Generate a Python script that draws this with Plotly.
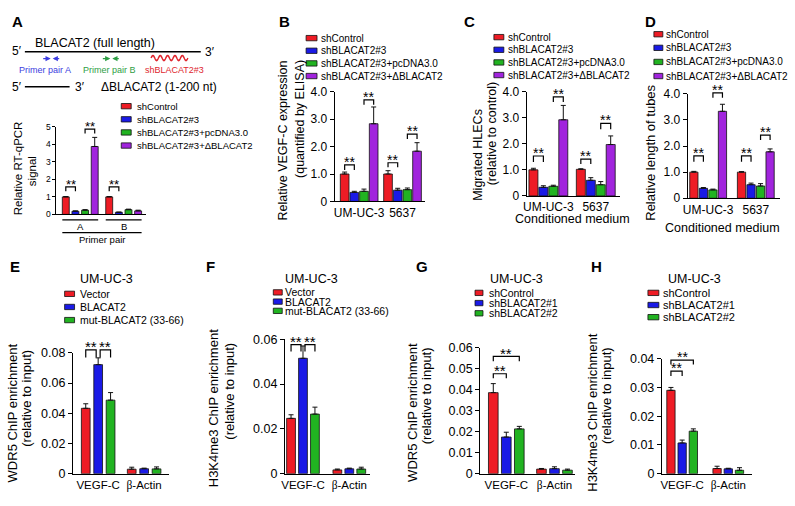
import math
import plotly.graph_objects as go

W, H = 795, 506
SANS = "Liberation Sans, Arial, Helvetica, sans-serif"
SERIF = "Liberation Serif, Times New Roman, serif"
RED, BLUE, GREEN, PURPLE = "#ee1c25", "#1a1ae6", "#21b321", "#a124dd"

# ---------------- data ----------------
top_names = ["shControl", "shBLACAT2#3", "shBLACAT2#3+pcDNA3.0", "shBLACAT2#3+ΔBLACAT2"]
top_colors = [RED, BLUE, GREEN, PURPLE]
e_names = ["Vector", "BLACAT2", "mut-BLACAT2 (33-66)"]
g_names = ["shControl", "shBLACAT2#1", "shBLACAT2#2"]
bot_colors = [RED, BLUE, GREEN]

a_groups = ["A", "B"]
a_values = [[1.00, 1.00], [0.18, 0.12], [0.24, 0.27], [3.88, 0.20]]
a_errors = [[0.02, 0.02], [0.02, 0.01], [0.03, 0.03], [0.52, 0.04]]

cell_groups = ["UM-UC-3", "5637"]
b_values = [[1.00, 1.00], [0.33, 0.41], [0.37, 0.43], [2.83, 1.83]]
b_errors = [[0.07, 0.12], [0.04, 0.07], [0.08, 0.06], [0.61, 0.31]]
c_values = [[1.00, 1.02], [0.33, 0.60], [0.37, 0.43], [2.92, 1.97]]
c_errors = [[0.06, 0.02], [0.06, 0.10], [0.04, 0.12], [0.55, 0.33]]
d_values = [[1.00, 1.00], [0.38, 0.52], [0.32, 0.47], [3.33, 1.78]]
d_errors = [[0.03, 0.02], [0.03, 0.06], [0.03, 0.09], [0.27, 0.11]]

gene_groups = ["VEGF-C", "β-Actin"]
e_values = [[0.0433, 0.0030], [0.0722, 0.0033], [0.0487, 0.0032]]
e_errors = [[0.0030, 0.0013], [0.0045, 0.0004], [0.0050, 0.0013]]
f_values = [[0.0247, 0.0017], [0.0515, 0.0022], [0.0266, 0.0021]]
f_errors = [[0.0016, 0.0004], [0.0055, 0.0003], [0.0031, 0.0008]]
g_values = [[0.0387, 0.0022], [0.0175, 0.0024], [0.0214, 0.0017]]
g_errors = [[0.0043, 0.0003], [0.0023, 0.0009], [0.0012, 0.0005]]
h_values = [[0.0290, 0.0018], [0.0107, 0.0017], [0.0148, 0.0012]]
h_errors = [[0.0010, 0.0008], [0.0010, 0.0002], [0.0008, 0.0009]]

a_ticks = [0, 1, 2, 3, 4, 5]
a_ticktext = ["0", "1", "2", "3", "4", "5"]
top_ticks = [0, 1, 2, 3, 4]
top_ticktext = ["0", "1.0", "2.0", "3.0", "4.0"]
e_ticks = [0, 0.02, 0.04, 0.06, 0.08]
e_ticktext = ["0", "0.02", "0.04", "0.06", "0.08"]
f_ticks = [0, 0.02, 0.04, 0.06]
f_ticktext = ["0", "0.02", "0.04", "0.06"]
g_ticks = [0, 0.01, 0.02, 0.03, 0.04, 0.05, 0.06]
g_ticktext = ["0", "0.01", "0.02", "0.03", "0.04", "0.05", "0.06"]
h_ticks = [0, 0.01, 0.02, 0.03, 0.04]
h_ticktext = ["0", "0.01", "0.02", "0.03", "0.04"]

# significance: (group, bar_a, bar_b, bracket level, leg end, label)
a_sig = [(0, 0, 1, 1.57, 1.32, "**"), (0, 2, 3, 4.87, 4.62, "**"), (1, 0, 1, 1.57, 1.32, "**")]
b_sig = [(0, 0, 1, 1.33, 1.15, "**"), (0, 2, 3, 3.70, 3.52, "**"), (1, 0, 1, 1.41, 1.25, "**"), (1, 2, 3, 2.45, 2.27, "**")]
c_sig = [(0, 0, 1, 1.53, 1.30, "**"), (0, 2, 3, 3.80, 3.60, "**"), (1, 0, 1, 1.41, 1.22, "**"), (1, 2, 3, 2.78, 2.56, "**")]
d_sig = [(0, 0, 1, 1.62, 1.40, "**"), (0, 2, 3, 4.04, 3.85, "**"), (1, 0, 1, 1.62, 1.40, "**"), (1, 2, 3, 2.42, 2.23, "**")]
e_sig = [(0, 0, 1, 0.082, 0.077, "**"), (0, 1, 2, 0.082, 0.077, "**")]
f_sig = [(0, 0, 1, 0.0576, 0.0545, "**"), (0, 1, 2, 0.0576, 0.0545, "**")]
g_sig = [(0, 0, 1, 0.0477, 0.0456, "**"), (0, 0, 2, 0.0560, 0.0537, "**")]
h_sig = [(0, 0, 1, 0.0357, 0.0340, "**"), (0, 0, 2, 0.0395, 0.0380, "**")]

# ---------------- layout geometry (pixels) ----------------
panels = [
    dict(key="A", groups=a_groups, names=top_names, colors=top_colors, vals=a_values, errs=a_errors,
         ticks=a_ticks, ticktext=a_ticktext, ymax=5, sig=a_sig,
         x0=51.7, x1=141.7, yt=123.3, yb=213.3, xr=(-0.55, 1.51), step=0.222, bw=0.16,
         tfont=8.5, xfont=0, sigfont=13),
    dict(key="B", groups=cell_groups, names=top_names, colors=top_colors, vals=b_values, errs=b_errors,
         ticks=top_ticks, ticktext=top_ticktext, ymax=4, sig=b_sig,
         x0=331.7, x1=422.3, yt=87.0, yb=200.0, xr=(-0.566, 1.51), step=0.223, bw=0.20,
         tfont=12, xfont=12, sigfont=14),
    dict(key="C", groups=cell_groups, names=top_names, colors=top_colors, vals=c_values, errs=c_errors,
         ticks=top_ticks, ticktext=top_ticktext, ymax=4, sig=c_sig,
         x0=525.0, x1=619.3, yt=87.0, yb=194.3, xr=(-0.457, 1.52), step=0.21, bw=0.19,
         tfont=12, xfont=12, sigfont=14),
    dict(key="D", groups=cell_groups, names=top_names, colors=top_colors, vals=d_values, errs=d_errors,
         ticks=top_ticks, ticktext=top_ticktext, ymax=4, sig=d_sig,
         x0=687.0, x1=780.0, yt=89.3, yb=196.7, xr=(-0.43, 1.51), step=0.20, bw=0.173,
         tfont=12, xfont=12, sigfont=14),
    dict(key="E", groups=gene_groups, names=e_names, colors=bot_colors, vals=e_values, errs=e_errors,
         ticks=e_ticks, ticktext=e_ticktext, ymax=0.08, sig=e_sig,
         x0=68.3, x1=165.0, yt=355.7, yb=480.0, xr=(-0.55, 1.54), step=0.27, bw=0.19,
         tfont=12.5, xfont=11.5, sigfont=15),
    dict(key="F", groups=gene_groups, names=e_names, colors=bot_colors, vals=f_values, errs=f_errors,
         ticks=f_ticks, ticktext=f_ticktext, ymax=0.06, sig=f_sig,
         x0=281.7, x1=367.0, yt=341.7, yb=480.0, xr=(-0.39, 1.44), step=0.258, bw=0.19,
         tfont=12.5, xfont=11.5, sigfont=15),
    dict(key="G", groups=gene_groups, names=g_names, colors=bot_colors, vals=g_values, errs=g_errors,
         ticks=g_ticks, ticktext=g_ticktext, ymax=0.06, sig=g_sig,
         x0=478.3, x1=573.3, yt=350.7, yb=480.0, xr=(-0.54, 1.42), step=0.27, bw=0.20,
         tfont=12.5, xfont=11.5, sigfont=15),
    dict(key="H", groups=gene_groups, names=g_names, colors=bot_colors, vals=h_values, errs=h_errors,
         ticks=h_ticks, ticktext=h_ticktext, ymax=0.04, sig=h_sig,
         x0=661.0, x1=752.0, yt=361.7, yb=480.0, xr=(-0.44, 1.52), step=0.243, bw=0.18,
         tfont=12.5, xfont=11.5, sigfont=14),
]


def PX(x):
    return x / W


def PY(y):
    return 1 - y / H


annotations = []
shapes = []


def text(t, x, y, size, color="black", xanchor="center", yanchor="middle", angle=0, family=SANS):
    annotations.append(dict(text=t, x=PX(x), y=PY(y), xref="paper", yref="paper", showarrow=False,
                            font=dict(size=size, color=color, family=family),
                            xanchor=xanchor, yanchor=yanchor, textangle=angle))


def hline(x0, x1, y, width=1.0, color="black"):
    shapes.append(dict(type="line", xref="paper", yref="paper", x0=PX(x0), x1=PX(x1), y0=PY(y), y1=PY(y),
                       line=dict(color=color, width=width)))


def xmap(p, xv):
    r0, r1 = p["xr"]
    return p["x0"] + (xv - r0) / (r1 - r0) * (p["x1"] - p["x0"])


def ymap(p, yv):
    return p["yb"] - yv / p["ymax"] * (p["yb"] - p["yt"])


def bar_center(p, gi, k):
    K = len(p["names"])
    return gi + (k - (K - 1) / 2) * p["step"]


def fmt_label(s):
    if s.startswith("β"):
        return "<span style='font-family:%s'>β</span>%s" % ("Liberation Serif", s[1:])
    return s


fig = go.Figure()
layout = {}
for idx, p in enumerate(panels):
    n = idx + 1
    xs = "x" if n == 1 else "x%d" % n
    ys = "y" if n == 1 else "y%d" % n
    K = len(p["names"])
    for k in range(K):
        off = (k - (K - 1) / 2) * p["step"] - p["bw"] / 2
        fig.add_trace(go.Bar(
            x=p["groups"], y=p["vals"][k], name=p["names"][k],
            xaxis=xs, yaxis=ys, showlegend=False,
            offset=[off] * len(p["groups"]), width=[p["bw"]] * len(p["groups"]),
            marker=dict(color=p["colors"][k], line=dict(color="#111111", width=0.8)),
            error_y=dict(type="data", array=p["errs"][k], arrayminus=[0] * len(p["groups"]),
                         symmetric=False, color="#111111", thickness=1, width=2.5),
        ))
    xa = dict(domain=[PX(p["x0"]), PX(p["x1"])], anchor=ys, type="category",
              categoryorder="array", categoryarray=p["groups"], range=list(p["xr"]),
              showline=True, linecolor="black", linewidth=1, ticks="", showgrid=False,
              zeroline=False, fixedrange=True,
              showticklabels=p["xfont"] > 0,
              tickvals=p["groups"], ticktext=[fmt_label(g) for g in p["groups"]],
              tickfont=dict(family=SANS, size=p["xfont"] or 10, color="black"))
    ya = dict(domain=[PY(p["yb"]), PY(p["yt"])], anchor=xs, range=[0, p["ymax"]],
              showline=True, linecolor="black", linewidth=1, ticks="outside",
              ticklen=4 if p["key"] != "A" else 3, tickwidth=1, tickcolor="black",
              tickvals=p["ticks"], ticktext=p["ticktext"], showgrid=False, zeroline=False,
              fixedrange=True, tickfont=dict(family=SANS, size=p["tfont"], color="black"))
    layout["xaxis" if n == 1 else "xaxis%d" % n] = xa
    layout["yaxis" if n == 1 else "yaxis%d" % n] = ya

    # significance brackets
    for (gi, a, b, lvl, leg, lab) in p["sig"]:
        xa_px = xmap(p, bar_center(p, gi, a))
        xb_px = xmap(p, bar_center(p, gi, b))
        if p["key"] in ("E", "F"):
            if a == 1:
                xa_px += 2
            if b == 1:
                xb_px -= 2
        yl = ymap(p, lvl)
        yg = ymap(p, leg)
        path = "M %f,%f L %f,%f L %f,%f L %f,%f" % (PX(xa_px), PY(yg), PX(xa_px), PY(yl),
                                                   PX(xb_px), PY(yl), PX(xb_px), PY(yg))
        shapes.append(dict(type="path", xref="paper", yref="paper", path=path,
                           line=dict(color="black", width=1.2)))
        text(lab, (xa_px + xb_px) / 2, yl - 3, p["sigfont"])

# ---------------- panel letters ----------------
for lab, x, y in [("A", 13, 15), ("B", 281, 15), ("C", 467, 15), ("D", 650, 15),
                  ("E", 10, 267), ("F", 207, 267), ("G", 420, 267), ("H", 595, 267)]:
    text("<b>%s</b>" % lab, x, y, 15)


# ---------------- legends ----------------
def legend(names, colors, bx, ys, bwid, bh, tx, size):
    for nm, col, y in zip(names, colors, ys):
        shapes.append(dict(type="rect", xref="paper", yref="paper",
                           x0=PX(bx), x1=PX(bx + bwid), y0=PY(y + bh / 2), y1=PY(y - bh / 2),
                           fillcolor=col, line=dict(color="#111111", width=0.8)))
        text(nm, tx, y, size, xanchor="left")


legend(top_names, top_colors, 117, [102, 115.5, 129, 142.5], 10, 5.5, 131, 9.5)
legend(top_names, top_colors, 303, [32, 45, 58, 71], 11, 5.5, 316, 10)
legend(top_names, top_colors, 492, [31, 44, 57, 70], 10, 5.5, 504, 10)
legend(top_names, top_colors, 653, [28, 42, 56.5, 71], 9, 5.5, 663, 10)
legend(e_names, bot_colors, 60, [295, 308.5, 322], 10, 5.5, 73, 10.5)
legend(e_names, bot_colors, 270, [293.5, 303, 312.5], 9, 5.5, 280, 10.5)
legend(g_names, bot_colors, 473, [294, 304.5, 315], 8, 5.5, 485, 10.5)
legend(g_names, bot_colors, 647, [294, 306.5, 319], 11, 5.5, 660, 11)

for x in (102, 308, 515, 694):
    text("UM-UC-3", x, 280, 12.5)

# ---------------- axis titles ----------------
text("Relative RT-qPCR", 13, 166, 11.5, angle=-90)
text("signal", 28, 169, 11.5, angle=-90)
text("Relative VEGF-C expression", 280, 137, 12.5, angle=-90)
text("(quantified by ELISA)", 297, 115, 12.5, angle=-90)
text("Migrated HLECs", 476, 152, 12.5, angle=-90)
text("(relative to control)", 490, 130, 12.5, angle=-90)
text("Relative length of tubes", 650, 150, 13, angle=-90)
text("Conditioned medium", 571, 218, 12.5)
text("Conditioned medium", 722, 227, 12.5)
text("WDR5 ChIP enrichment", 8, 417, 13, angle=-90)
text("(relative to input)", 22, 402, 13, angle=-90)
text("H3K4me3 ChIP enrichment", 210, 413, 13, angle=-90)
text("(relative to input)", 225, 395, 13, angle=-90)
text("WDR5 ChIP enrichment", 410, 417, 13, angle=-90)
text("(relative to input)", 425, 400, 13, angle=-90)
text("H3K4me3 ChIP enrichment", 591, 417, 13, angle=-90)
text("(relative to input)", 606, 400, 13, angle=-90)

# ---------------- panel A: primer-pair axis decoration ----------------
pA = panels[0]
KA = len(pA["names"])
for gi, g in enumerate(pA["groups"]):
    left = xmap(pA, bar_center(pA, gi, 0) - pA["bw"] / 2)
    right = xmap(pA, bar_center(pA, gi, KA - 1) + pA["bw"] / 2)
    hline(left, right, 219, 1.2)
    text(g, (left + right) / 2, 226, 9.5)
gl = xmap(pA, bar_center(pA, 0, 0) - pA["bw"] / 2)
gr = xmap(pA, bar_center(pA, 1, KA - 1) + pA["bw"] / 2)
hline(gl, gr, 232, 1.2)
text("Primer pair", (gl + gr) / 2, 239, 9.5)

# ---------------- panel A: transcript diagram ----------------
text("5′", 12, 45, 12)
hline(20, 197, 46, 1.5)
text("3′", 206, 46, 12)
text("BLACAT2 (full length)", 91, 37, 12.5)
text("Primer pair A", 40, 65, 9, color="#3d3de0")
text("Primer pair B", 105, 65, 9, color="#2e9e45")
text("shBLACAT2#3", 171, 65, 9, color="#e0262e")
text("5′", 12, 82, 12)
hline(20, 65, 82, 1.5)
text("3′", 75, 82, 12)
text("ΔBLACAT2 (1-200 nt)", 95, 82, 12, xanchor="left")


def arrow(xh, xt, y, color):
    annotations.append(dict(x=PX(xh), y=PY(y), xref="paper", yref="paper", text="", showarrow=True,
                            ax=xt - xh, ay=0, arrowhead=2, arrowsize=0.8, arrowwidth=1.3,
                            arrowcolor=color, standoff=0, startstandoff=0))


arrow(46, 37, 53, "#3d3de0")
arrow(48, 56, 53, "#3d3de0")
arrow(106, 97, 53, "#2e9e45")
arrow(108, 116, 53, "#2e9e45")

# red squiggle
pts = []
x_start, x_end, yc, amp, waves = 147, 184, 52.5, 2.6, 5
N = 80
for i in range(N + 1):
    t = i / N
    xx = x_start + t * (x_end - x_start)
    yy = yc - amp * math.sin(2 * math.pi * waves * t)
    pts.append((PX(xx), PY(yy)))
sq = "M " + " L ".join("%f,%f" % q for q in pts)
shapes.append(dict(type="path", xref="paper", yref="paper", path=sq, line=dict(color="#e0262e", width=1.5)))

fig.update_layout(
    width=W, height=H, margin=dict(l=0, r=0, t=0, b=0),
    paper_bgcolor="white", plot_bgcolor="white",
    barmode="overlay", showlegend=False,
    font=dict(family=SANS, color="black"),
    annotations=annotations, shapes=shapes,
    **layout,
)

fig.write_html("out.html", config={"displayModeBar": False},
               post_script="document.body.style.margin='0';document.body.style.padding='0';")
